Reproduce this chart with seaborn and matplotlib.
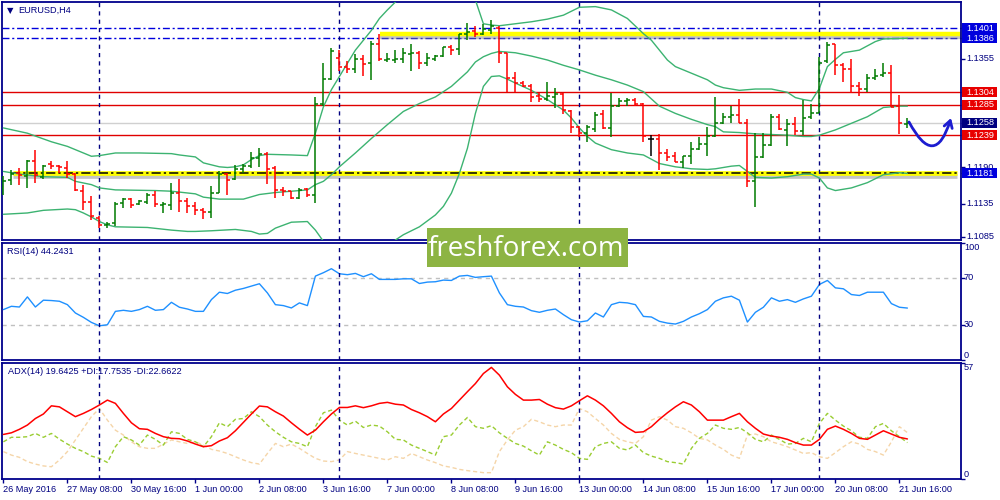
import matplotlib
matplotlib.use("Agg")
import matplotlib.pyplot as plt
import matplotlib.patheffects as pe
from matplotlib.patches import Rectangle
import numpy as np
import pandas as pd
import seaborn as sns

# =============================================================================
# DATA (one entry per 4h bar)
# =============================================================================

bar_opens = [
    1.1159, 1.1171, 1.1181, 1.1177, 1.1200, 1.1175, 1.1195, 1.1193, 1.1189, 1.1180,
    1.1155, 1.1137, 1.1113, 1.1102, 1.1106, 1.1136, 1.1142, 1.1135, 1.1138, 1.1148,
    1.1133, 1.1133, 1.1152, 1.1139, 1.1132, 1.1126, 1.1123, 1.1152, 1.1180, 1.1172,
    1.1187, 1.1193, 1.1204, 1.1211, 1.1189, 1.1156, 1.1154, 1.1143, 1.1157, 1.1148,
    1.1286, 1.1324, 1.1356, 1.1343, 1.1339, 1.1354, 1.1348, 1.1377, 1.1353, 1.1353,
    1.1354, 1.1362, 1.1364, 1.1348, 1.1355, 1.1359, 1.1372, 1.1369, 1.1392, 1.1397,
    1.1393, 1.1398, 1.1402, 1.1363, 1.1325, 1.1318, 1.1314, 1.1299, 1.1294, 1.1297,
    1.1301, 1.1276, 1.1251, 1.1243, 1.1248, 1.1271, 1.1250, 1.1283, 1.1291, 1.1293,
    1.1286, 1.1233, 1.1233, 1.1212, 1.1207, 1.1199, 1.1207, 1.1218, 1.1225, 1.1237,
    1.1258, 1.1267, 1.1270, 1.1258, 1.1170, 1.1206, 1.1224, 1.1267, 1.1247, 1.1256,
    1.1245, 1.1266, 1.1273, 1.1351, 1.1377, 1.1345, 1.1340, 1.1314, 1.1309, 1.1325,
    1.1330, 1.1334, 1.1283, 1.1256,
]
bar_highs = [
    1.1177, 1.1186, 1.1189, 1.1202, 1.1217, 1.1194, 1.1200, 1.1194, 1.1200, 1.1182,
    1.1163, 1.1146, 1.1116, 1.1107, 1.1137, 1.1143, 1.1143, 1.1140, 1.1152, 1.1154,
    1.1137, 1.1166, 1.1172, 1.1143, 1.1137, 1.1128, 1.1162, 1.1185, 1.1181, 1.1194,
    1.1196, 1.1213, 1.1219, 1.1214, 1.1192, 1.1160, 1.1155, 1.1159, 1.1159, 1.1297,
    1.1348, 1.1371, 1.1368, 1.1351, 1.1362, 1.1361, 1.1382, 1.1392, 1.1363, 1.1368,
    1.1371, 1.1378, 1.1366, 1.1363, 1.1361, 1.1373, 1.1376, 1.1393, 1.1409, 1.1405,
    1.1408, 1.1414, 1.1405, 1.1364, 1.1335, 1.1321, 1.1317, 1.1303, 1.1320, 1.1310,
    1.1303, 1.1277, 1.1253, 1.1254, 1.1274, 1.1277, 1.1303, 1.1295, 1.1295, 1.1296,
    1.1288, 1.1239, 1.1241, 1.1218, 1.1213, 1.1208, 1.1228, 1.1236, 1.1252, 1.1297,
    1.1273, 1.1283, 1.1294, 1.1264, 1.1243, 1.1243, 1.1271, 1.1271, 1.1263, 1.1266,
    1.1293, 1.1286, 1.1357, 1.1380, 1.1377, 1.1348, 1.1355, 1.1319, 1.1332, 1.1340,
    1.1349, 1.1345, 1.1300, 1.1265,
]
bar_lows = [
    1.1149, 1.1164, 1.1164, 1.1159, 1.1167, 1.1173, 1.1188, 1.1182, 1.1174, 1.1154,
    1.1126, 1.1110, 1.1098, 1.1098, 1.1101, 1.1128, 1.1128, 1.1133, 1.1135, 1.1130,
    1.1121, 1.1126, 1.1123, 1.1121, 1.1118, 1.1112, 1.1114, 1.1151, 1.1148, 1.1171,
    1.1181, 1.1189, 1.1190, 1.1165, 1.1143, 1.1146, 1.1142, 1.1142, 1.1145, 1.1136,
    1.1284, 1.1323, 1.1337, 1.1334, 1.1334, 1.1328, 1.1323, 1.1352, 1.1350, 1.1349,
    1.1349, 1.1337, 1.1339, 1.1344, 1.1352, 1.1358, 1.1361, 1.1361, 1.1384, 1.1388,
    1.1391, 1.1393, 1.1349, 1.1304, 1.1304, 1.1312, 1.1290, 1.1289, 1.1291, 1.1280,
    1.1271, 1.1243, 1.1236, 1.1229, 1.1244, 1.1248, 1.1236, 1.1281, 1.1283, 1.1284,
    1.1228, 1.1207, 1.1186, 1.1200, 1.1198, 1.1189, 1.1196, 1.1217, 1.1208, 1.1236,
    1.1256, 1.1257, 1.1257, 1.1161, 1.1130, 1.1204, 1.1223, 1.1247, 1.1222, 1.1239,
    1.1239, 1.1264, 1.1272, 1.1348, 1.1330, 1.1319, 1.1303, 1.1299, 1.1305, 1.1322,
    1.1327, 1.1281, 1.1241, 1.1250,
]
bar_closes = [
    1.1169, 1.1180, 1.1178, 1.1200, 1.1179, 1.1193, 1.1192, 1.1190, 1.1180, 1.1156,
    1.1137, 1.1117, 1.1102, 1.1105, 1.1135, 1.1142, 1.1133, 1.1139, 1.1148, 1.1135,
    1.1135, 1.1152, 1.1139, 1.1132, 1.1125, 1.1123, 1.1152, 1.1180, 1.1171, 1.1188,
    1.1193, 1.1204, 1.1211, 1.1188, 1.1156, 1.1154, 1.1143, 1.1156, 1.1148, 1.1286,
    1.1324, 1.1366, 1.1343, 1.1339, 1.1354, 1.1347, 1.1378, 1.1354, 1.1354, 1.1355,
    1.1363, 1.1363, 1.1348, 1.1356, 1.1359, 1.1372, 1.1368, 1.1392, 1.1396, 1.1393,
    1.1400, 1.1404, 1.1363, 1.1325, 1.1318, 1.1314, 1.1297, 1.1294, 1.1299, 1.1301,
    1.1277, 1.1252, 1.1243, 1.1251, 1.1270, 1.1250, 1.1283, 1.1291, 1.1293, 1.1286,
    1.1237, 1.1233, 1.1212, 1.1206, 1.1199, 1.1207, 1.1218, 1.1225, 1.1237, 1.1258,
    1.1267, 1.1270, 1.1258, 1.1170, 1.1206, 1.1224, 1.1266, 1.1248, 1.1256, 1.1245,
    1.1265, 1.1273, 1.1349, 1.1376, 1.1345, 1.1340, 1.1314, 1.1309, 1.1325, 1.1329,
    1.1334, 1.1282, 1.1257, 1.1258,
]

# Bollinger bands, read at the bars where the curves could be followed
bb_upper_bars = [0, 3, 6, 8, 10, 11, 12, 14, 17, 21, 22, 24, 25, 27, 28, 29, 30, 31, 32, 33,
                 36, 38, 39, 40, 41, 42, 43, 44, 45, 46, 47, 48, 49, 50, 52, 54, 56, 58, 59, 60,
                 61, 62, 64, 66, 68, 70, 72, 74, 76, 78, 80, 81, 82, 83, 84, 86, 88, 89, 90, 92,
                 94, 96, 98, 99, 100, 101, 102, 103, 104, 105, 107, 109, 110, 113]
bb_upper = [1.1250, 1.1242, 1.1229, 1.1222, 1.1212, 1.1207, 1.1208, 1.1212, 1.1212, 1.1211,
            1.1209, 1.1206, 1.1197, 1.1191, 1.1190, 1.1191, 1.1194, 1.1202, 1.1208, 1.1210,
            1.1209, 1.1208, 1.1242, 1.1282, 1.1308, 1.1328, 1.1348, 1.1368, 1.1383, 1.1398,
            1.1416, 1.1429, 1.1441, 1.1454, 1.1467, 1.1472, 1.1469, 1.1454, 1.1444, 1.1408,
            1.1406, 1.1405, 1.1408, 1.1411, 1.1415, 1.1421, 1.1433, 1.1434, 1.1429, 1.1416,
            1.1393, 1.1383, 1.1368, 1.1353, 1.1343, 1.1333, 1.1323, 1.1315, 1.1311, 1.1307,
            1.1309, 1.1309, 1.1304, 1.1296, 1.1293, 1.1291, 1.1310, 1.1343, 1.1354, 1.1364,
            1.1368, 1.1381, 1.1385, 1.1386]

bb_mid_bars = [0, 2, 5, 8, 9, 11, 12, 14, 19, 21, 24, 25, 27, 29, 30, 32, 34, 36, 38, 39,
               40, 41, 42, 44, 46, 48, 50, 52, 54, 56, 58, 59, 60, 61, 62, 64, 66, 68, 70, 72,
               74, 76, 78, 80, 82, 84, 86, 88, 89, 90, 92, 94, 96, 98, 100, 101, 102, 103, 104, 106,
               108, 110, 112, 113]
bb_mid = [1.1184, 1.1180, 1.1176, 1.1175, 1.1169, 1.1164, 1.1159, 1.1156, 1.1155, 1.1154,
          1.1150, 1.1145, 1.1142, 1.1142, 1.1142, 1.1149, 1.1152, 1.1154, 1.1156, 1.1164,
          1.1169, 1.1179, 1.1191, 1.1212, 1.1234, 1.1255, 1.1275, 1.1287, 1.1297, 1.1313,
          1.1335, 1.1350, 1.1358, 1.1363, 1.1366, 1.1364, 1.1359, 1.1353, 1.1345, 1.1338,
          1.1330, 1.1323, 1.1315, 1.1305, 1.1283, 1.1272, 1.1263, 1.1255, 1.1252, 1.1244,
          1.1243, 1.1241, 1.1240, 1.1239, 1.1237, 1.1237, 1.1239, 1.1243, 1.1247, 1.1257,
          1.1267, 1.1281, 1.1283, 1.1283]

bb_lower_bars = [0, 3, 5, 8, 9, 10, 11, 12, 13, 14, 18, 21, 23, 24, 26, 29, 31, 32, 33, 34,
                 36, 38, 39, 40, 42, 44, 46, 48, 49, 50, 52, 54, 55, 56, 57, 58, 59, 60, 61, 62,
                 63, 64, 66, 68, 70, 71, 72, 73, 74, 76, 78, 80, 82, 84, 86, 88, 89, 90, 91, 92,
                 93, 94, 96, 98, 100, 101, 102, 103, 104, 106, 108, 110, 112, 113]
bb_lower = [1.1119, 1.1121, 1.1125, 1.1127, 1.1126, 1.1121, 1.1115, 1.1108, 1.1103, 1.1100,
            1.1099, 1.1095, 1.1093, 1.1093, 1.1094, 1.1096, 1.1093, 1.1089, 1.1090, 1.1098,
            1.1107, 1.1108, 1.1095, 1.1078, 1.1060, 1.1045, 1.1050, 1.1068, 1.1080, 1.1088,
            1.1100, 1.1118, 1.1131, 1.1151, 1.1181, 1.1219, 1.1272, 1.1313, 1.1328, 1.1329,
            1.1324, 1.1318, 1.1307, 1.1293, 1.1277, 1.1265, 1.1250, 1.1237, 1.1227, 1.1217,
            1.1212, 1.1209, 1.1196, 1.1191, 1.1188, 1.1187, 1.1188, 1.1190, 1.1192, 1.1193,
            1.1184, 1.1175, 1.1174, 1.1176, 1.1180, 1.1180, 1.1174, 1.1159, 1.1155, 1.1159,
            1.1167, 1.1179, 1.1182, 1.1181]

rsi_values = [
    42.9, 45.7, 45.1, 53.7, 45.1, 50.9, 50.6, 50.0, 47.1, 40.0,
    36.3, 32.0, 29.1, 30.0, 41.4, 42.3, 41.4, 42.9, 45.7, 42.3,
    42.9, 49.1, 44.9, 43.4, 41.4, 41.4, 51.4, 57.7, 56.6, 59.4,
    60.9, 62.9, 64.9, 57.1, 47.1, 46.3, 44.3, 48.6, 46.3, 71.4,
    74.3, 77.7, 73.4, 72.6, 73.7, 70.9, 73.4, 68.6, 68.6, 68.6,
    69.1, 69.1, 65.1, 66.3, 66.6, 68.0, 67.7, 71.4, 72.0, 70.3,
    70.9, 71.4, 57.1, 47.1, 45.7, 45.1, 42.0, 40.6, 42.3, 43.4,
    38.6, 34.3, 32.3, 33.4, 40.0, 36.6, 47.1, 49.1, 48.6, 47.1,
    37.1, 36.6, 32.9, 31.4, 30.6, 32.9, 36.6, 39.4, 42.9, 50.0,
    52.9, 54.3, 50.9, 32.3, 40.6, 44.9, 52.9, 50.0, 51.4, 49.1,
    52.0, 54.3, 64.3, 67.7, 61.4, 60.6, 55.7, 54.9, 57.7, 57.7,
    57.7, 48.0, 44.9, 44.2,
]

adx_values = [
    21.8, 22.6, 24.3, 26.4, 29.6, 31.8, 35.8, 35.3, 32.9, 30.5,
    32.1, 34.0, 36.2, 38.6, 37.0, 32.1, 27.5, 24.6, 24.3, 22.3,
    20.7, 19.9, 19.7, 18.6, 17.1, 15.8, 16.3, 18.6, 20.2, 23.6,
    27.7, 31.8, 35.7, 35.3, 32.9, 30.8, 27.5, 24.4, 21.5, 23.9,
    28.0, 31.8, 35.0, 35.0, 35.8, 34.9, 35.8, 37.0, 37.5, 36.6,
    36.2, 34.0, 32.4, 30.5, 28.0, 31.8, 34.5, 38.6, 42.7, 46.7,
    51.6, 54.6, 50.8, 45.1, 41.4, 38.6, 38.6, 38.9, 36.6, 34.9,
    34.2, 35.8, 38.3, 40.7, 38.6, 35.8, 32.1, 28.0, 25.1, 22.8,
    23.1, 25.6, 29.2, 32.4, 35.3, 37.8, 36.2, 32.9, 28.8, 28.8,
    28.8, 30.5, 32.1, 28.0, 24.8, 22.0, 21.0, 20.4, 19.4, 17.8,
    16.6, 16.6, 19.4, 24.3, 25.9, 24.3, 22.3, 19.9, 19.4, 21.5,
    23.6, 22.0, 20.4, 19.6,
]
plus_di = [
    18.2, 20.4, 20.4, 20.7, 22.3, 20.4, 22.3, 19.5, 17.1, 15.0,
    13.4, 11.2, 10.1, 8.1, 15.8, 20.7, 19.1, 16.6, 21.5, 19.4,
    16.6, 23.1, 22.3, 19.4, 18.2, 15.8, 20.7, 27.5, 25.6, 29.2,
    29.6, 32.9, 30.5, 26.4, 23.1, 20.4, 18.2, 17.4, 15.8, 25.6,
    32.4, 33.7, 28.8, 26.4, 28.3, 25.2, 26.4, 25.9, 23.1, 19.4,
    19.1, 16.6, 15.0, 13.4, 11.7, 20.7, 21.5, 26.4, 30.1, 25.6,
    24.8, 26.1, 22.6, 19.9, 17.4, 16.1, 13.8, 11.7, 18.2, 16.6,
    14.5, 12.9, 10.1, 9.6, 15.8, 17.4, 18.2, 15.0, 14.2, 16.6,
    12.9, 11.2, 10.1, 8.5, 8.0, 7.3, 15.0, 19.9, 22.3, 26.4,
    24.8, 24.3, 25.2, 22.6, 19.4, 18.2, 21.5, 19.4, 17.1, 17.4,
    19.9, 18.2, 27.2, 32.1, 28.8, 25.9, 23.6, 20.4, 19.9, 25.6,
    27.2, 23.6, 20.7, 17.8,
]
minus_di = [
    13.4, 11.7, 10.6, 8.5, 7.3, 6.4, 6.0, 9.3, 13.4, 19.1,
    24.8, 30.5, 34.5, 28.8, 23.9, 21.5, 18.2, 15.8, 15.0, 15.0,
    17.1, 19.1, 18.2, 17.4, 18.2, 16.6, 14.5, 13.7, 12.5, 10.9,
    9.3, 8.0, 7.3, 12.5, 17.4, 15.8, 17.1, 15.0, 12.5, 10.1,
    8.8, 8.5, 9.3, 13.4, 12.5, 11.7, 10.9, 10.1, 9.3, 10.9,
    10.1, 12.5, 10.9, 9.3, 8.0, 6.4, 5.7, 4.7, 4.1, 3.6,
    3.1, 3.1, 13.4, 19.1, 23.9, 25.6, 29.2, 28.0, 26.4, 25.6,
    26.4, 26.4, 34.5, 32.9, 29.6, 26.4, 22.3, 19.4, 18.2, 17.4,
    20.7, 28.8, 30.5, 28.8, 25.6, 24.8, 22.6, 19.9, 19.1, 16.6,
    14.5, 11.7, 10.1, 21.5, 22.0, 20.7, 18.2, 17.1, 15.8, 14.2,
    12.5, 12.9, 10.9, 10.1, 12.9, 15.8, 18.2, 17.1, 14.5, 13.4,
    11.7, 18.2, 25.6, 22.7,
]

time_labels = ['26 May 2016', '27 May 08:00', '30 May 16:00', '1 Jun 00:00', '2 Jun 08:00',
               '3 Jun 16:00', '7 Jun 00:00', '8 Jun 08:00', '9 Jun 16:00', '13 Jun 00:00',
               '14 Jun 08:00', '15 Jun 16:00', '17 Jun 00:00', '20 Jun 08:00', '21 Jun 16:00']
label_every = 8
separator_bars = [12, 42, 72, 102]

blue_levels = [1.1401, 1.1386]
red_levels = [1.1304, 1.1285, 1.1239]
bid_price = 1.1258
support_level = 1.1181
resistance_zone = 1.1393
plain_price_ticks = [1.1355, 1.1190, 1.1135, 1.1085]

# =============================================================================
# STYLE
# =============================================================================

sns.set_style("white")
plt.rcParams['font.family'] = ['Liberation Sans', 'DejaVu Sans']

NAVY = '#000080'
FRAME = '#00008B'
BAR_GREEN = '#007A00'
BAR_RED = '#FF0000'
BB_GREEN = '#3CB371'
FS = 6.6

fig = plt.figure(figsize=(10, 5), dpi=100)
ax_main = fig.add_axes([0.002, 0.52, 0.959, 0.476])
ax_rsi = fig.add_axes([0.002, 0.28, 0.959, 0.235])
ax_adx = fig.add_axes([0.002, 0.042, 0.959, 0.233])
axes = [ax_main, ax_rsi, ax_adx]

bars = np.arange(len(bar_opens))
ohlc = pd.DataFrame({'open': bar_opens, 'high': bar_highs,
                     'low': bar_lows, 'close': bar_closes}, index=bars)
ohlc['color'] = np.where(ohlc['close'] > ohlc['open'], BAR_GREEN,
                         np.where(ohlc['close'] < ohlc['open'], BAR_RED, 'black'))

# ---- main price panel ----
for lvl in blue_levels:
    ax_main.axhline(lvl, color='#0000DD', lw=1.0, ls=(0, (5, 2, 1.5, 2)), zorder=2)
for lvl in red_levels:
    ax_main.axhline(lvl, color='#E00000', lw=1.0, zorder=2)
ax_main.axhline(bid_price, color='#D0D0D0', lw=1.0, zorder=1)

shadow = [pe.SimpleLineShadow(offset=(0, -2.2), shadow_color='#808080', alpha=0.45),
          pe.Normal()]
ax_main.hlines(resistance_zone, 47.05, 119.7, color='#FFFF00', lw=3.2, zorder=2,
               path_effects=shadow)
ax_main.hlines(support_level, 1.2, 119.2, color='#FFFF00', lw=3.4, zorder=2,
               path_effects=shadow)
ax_main.hlines(support_level, 1.0, 119.2, color='black', lw=1.1,
               linestyles=[(0, (6, 2, 1.5, 2))], zorder=3)

for idx, vals in ((bb_upper_bars, bb_upper), (bb_mid_bars, bb_mid), (bb_lower_bars, bb_lower)):
    sns.lineplot(x=idx, y=vals, color=BB_GREEN, linewidth=1.0, ax=ax_main, zorder=4)

ax_main.vlines(bars, ohlc['low'], ohlc['high'], colors=ohlc['color'], lw=1.1, zorder=5)
ax_main.hlines(ohlc['open'], bars - 0.38, bars, colors=ohlc['color'], lw=1.1, zorder=5)
ax_main.hlines(ohlc['close'], bars, bars + 0.38, colors=ohlc['color'], lw=1.1, zorder=5)

ax_main.set_ylim(1.1080, 1.1441)

# ---- RSI panel ----
for lvl in (70, 30):
    ax_rsi.axhline(lvl, color='#C0C0C0', lw=1.0, ls=(0, (3, 3)), zorder=1)
sns.lineplot(x=bars, y=rsi_values, color='#1E90FF', linewidth=1.0, ax=ax_rsi, zorder=3)
ax_rsi.set_ylim(0, 100)

# ---- ADX panel ----
sns.lineplot(x=bars, y=minus_di, color='#F5D5A8', linewidth=1.0,
             linestyle=(0, (3, 2)), ax=ax_adx, zorder=2)
sns.lineplot(x=bars, y=plus_di, color='#9ACD32', linewidth=1.0,
             linestyle=(0, (3, 2)), ax=ax_adx, zorder=3)
sns.lineplot(x=bars, y=adx_values, color='#FF0000', linewidth=1.1, ax=ax_adx, zorder=4)
ax_adx.set_ylim(0, 57)

# ---- shared frame / separators ----
for ax in axes:
    ax.set_xlim(-0.175, 119.7)
    ax.set_xlabel('')
    ax.set_ylabel('')
    for b in separator_bars:
        ax.axvline(b, color=NAVY, lw=1.0, ls=(0, (3, 3)), zorder=3)
    for s in ax.spines.values():
        s.set_color(FRAME)
        s.set_linewidth(1.3)
    ax.yaxis.tick_right()
    ax.tick_params(axis='y', direction='out', length=3, width=1, colors=FRAME,
                   labelright=False, labelleft=False, left=False, right=True)

ax_main.set_xticks([])
ax_rsi.set_xticks([])
ax_adx.set_xticks(bars[::label_every])
ax_adx.set_xticklabels(time_labels, fontsize=FS, color=NAVY)
for lab in ax_adx.get_xticklabels():
    lab.set_ha('left')
ax_adx.tick_params(axis='x', direction='out', length=3, width=1, colors=FRAME,
                   labelcolor=NAVY, pad=1.5, bottom=True)

# ---- right-hand price scale ----
ytr = ax_main.get_yaxis_transform()
ax_main.set_yticks(plain_price_ticks + blue_levels + red_levels + [bid_price, support_level])
for v in plain_price_ticks:
    ax_main.text(1.0052, v, f'{v:.4f}', transform=ytr, fontsize=FS, color=NAVY,
                 va='center', ha='left', clip_on=False)


def price_tag(value, face):
    ax_main.add_patch(Rectangle((1.0008, value - 0.00075), 0.0368, 0.0015, transform=ytr,
                                facecolor=face, edgecolor='none', clip_on=False, zorder=20))
    ax_main.text(1.0052, value, f'{value:.4f}', transform=ytr, fontsize=FS, color='white',
                 va='center', ha='left', clip_on=False, zorder=21)


for v in blue_levels:
    price_tag(v, '#0000DD')
for v in red_levels:
    price_tag(v, '#E80000')
price_tag(bid_price, NAVY)
price_tag(support_level, '#0000DD')

rtr = ax_rsi.get_yaxis_transform()
ax_rsi.set_yticks([0, 30, 70, 100])
for v, va in ((100, 'top'), (70, 'center'), (30, 'center'), (0, 'bottom')):
    ax_rsi.text(1.003, v, str(v), transform=rtr, fontsize=FS, color=NAVY,
                va=va, ha='left', clip_on=False)
atr = ax_adx.get_yaxis_transform()
ax_adx.set_yticks([0, 57])
for v, va in ((57, 'top'), (0, 'bottom')):
    ax_adx.text(1.003, v, str(v), transform=atr, fontsize=FS, color=NAVY,
                va=va, ha='left', clip_on=False)

# ---- captions ----
ax_main.text(0.0055, 0.966, '\u25bc', transform=ax_main.transAxes, fontsize=6,
             color=NAVY, family='DejaVu Sans', va='center', ha='left')
ax_main.text(0.0167, 0.966, 'EURUSD,H4', transform=ax_main.transAxes, fontsize=FS,
             color=NAVY, va='center', ha='left')
ax_rsi.text(0.0052, 0.925, 'RSI(14) 44.2431', transform=ax_rsi.transAxes, fontsize=FS,
            color=NAVY, va='center', ha='left')
ax_adx.text(0.0062, 0.925, 'ADX(14) 19.6425 +DI:17.7535 -DI:22.6622',
            transform=ax_adx.transAxes, fontsize=FS, color=NAVY, va='center', ha='left')

# hand-drawn "bounce" arrow
ax_main.annotate('', xy=(0.9896, 0.5126), xytext=(0.9458, 0.4958),
                 xycoords='axes fraction', textcoords='axes fraction',
                 arrowprops=dict(arrowstyle='->,head_length=0.5,head_width=0.3',
                                 color='#1C1CD0', lw=2.0, shrinkA=0, shrinkB=0,
                                 connectionstyle='arc3,rad=1.2'),
                 zorder=8)

# watermark
fig.add_artist(Rectangle((0.427, 1 - 267 / 500), 0.201, 39 / 500, transform=fig.transFigure,
                         facecolor='#8DB443', edgecolor='none', zorder=30))
fig.text(0.526, 1 - 256 / 500, 'freshforex.com', family=['Open Sans', 'DejaVu Sans'],
         fontsize=20, color='white', ha='center', va='baseline', zorder=31)

fig.savefig('out.png', dpi=100)
